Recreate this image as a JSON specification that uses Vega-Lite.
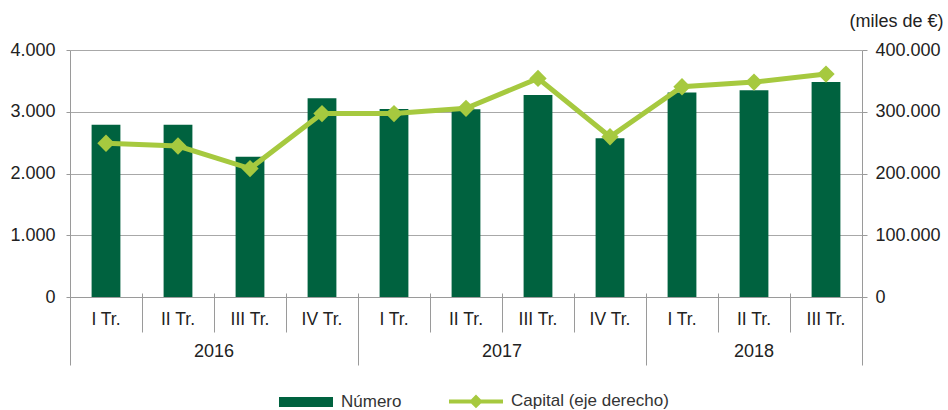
{
  "$schema": "https://vega.github.io/schema/vega-lite/v6.json",
  "width": 792,
  "height": 247,
  "autosize": {"type": "none"},
  "padding": {"left": 70, "top": 50, "right": 86, "bottom": 113},
  "config": {
    "font": "Liberation Sans",
    "view": {"stroke": null},
    "locale": {"number": {"decimal": ",", "thousands": ".", "grouping": [3], "currency": ["", " €"]}},
    "axis": {"labelFont": "Liberation Sans", "labelColor": "#222222", "labelFontSize": 18, "domainColor": "#9a9a9a", "tickColor": "#9a9a9a", "gridColor": "#a8a8a8"}
  },
  "data": {
    "values": [
      {"periodo": "2016|I Tr.", "numero": 2790, "capital": 249000},
      {"periodo": "2016|II Tr.", "numero": 2790, "capital": 244500},
      {"periodo": "2016|III Tr.", "numero": 2270, "capital": 208000},
      {"periodo": "2016|IV Tr.", "numero": 3220, "capital": 297000},
      {"periodo": "2017|I Tr.", "numero": 3045, "capital": 297000},
      {"periodo": "2017|II Tr.", "numero": 3040, "capital": 305500},
      {"periodo": "2017|III Tr.", "numero": 3270, "capital": 354000},
      {"periodo": "2017|IV Tr.", "numero": 2570, "capital": 259500},
      {"periodo": "2018|I Tr.", "numero": 3310, "capital": 340500},
      {"periodo": "2018|II Tr.", "numero": 3350, "capital": 348000},
      {"periodo": "2018|III Tr.", "numero": 3480, "capital": 361000}
    ]
  },
  "layer": [
    {
      "mark": {"type": "bar", "color": "#00623f", "width": {"band": 0.4}},
      "encoding": {
        "x": {
          "field": "periodo", "type": "nominal", "sort": null,
          "scale": {"paddingInner": 0, "paddingOuter": 0},
          "axis": {"orient": "bottom", "title": null, "ticks": false, "grid": false, "labelAngle": 0, "labelBaseline": "middle", "labelPadding": 22, "labelFontSize": 17.5, "labelExpr": "split(datum.value, '|')[1]", "domainColor": "#9a9a9a"}
        },
        "y": {
          "field": "numero", "type": "quantitative",
          "scale": {"domain": [0, 4000]},
          "axis": {"title": null, "tickCount": 5, "format": ",d", "tickSize": 4, "labelPadding": 11, "grid": true, "domain": true}
        },
        "color": {
          "datum": "Número", "type": "nominal",
          "scale": {"domain": ["Número", "Capital (eje derecho)"], "range": ["#00623f", "#a6c93f"]},
          "legend": {
            "title": null, "orient": "none", "legendX": 207, "legendY": 322, "direction": "horizontal",
            "symbolSize": 2916, "labelFontSize": 17, "labelColor": "#333333", "labelOffset": 6, "columnPadding": 39,
            "labelFont": "Liberation Sans",
            "encode": {
              "symbols": {
                "update": {
                  "size": {"value": 2916},
                  "shape": {"signal": "datum.value == 'Número' ? 'M-0.926,-0.111H0.926V0.111H-0.926Z' : 'M-1,0H1M0,-0.15L0.15,0L0,0.15L-0.15,0Z'"},
                  "fill": {"signal": "datum.value == 'Número' ? '#00623f' : '#a6c93f'"},
                  "stroke": {"signal": "datum.value == 'Número' ? '#00623f' : '#a6c93f'"},
                  "strokeWidth": {"value": 4},
                  "opacity": {"value": 1}
                }
              }
            }
          }
        }
      }
    },
    {
      "mark": {"type": "line", "strokeWidth": 5, "color": "#a6c93f"},
      "encoding": {
        "x": {
          "field": "periodo", "type": "nominal", "sort": null,
          "axis": {"orient": "bottom", "offset": -4, "title": null, "labels": false, "domain": false, "grid": false, "ticks": true, "tickBand": "extent",
            "tickSize": {"expr": "(datum.extra || indexof(['2016|IV Tr.', '2017|IV Tr.', '2018|III Tr.'], datum.value) >= 0) ? 72 : 39"}}
        },
        "y": {
          "field": "capital", "type": "quantitative",
          "scale": {"domain": [0, 400000]},
          "axis": {"orient": "right", "title": "(miles de €)", "titleAngle": 0, "titleAlign": "center", "titleBaseline": "middle", "titleX": 34, "titleY": -29, "titleFontSize": 18, "titleFontWeight": "normal", "titleColor": "#222222", "titleFont": "Liberation Sans", "tickCount": 5, "format": ",d", "tickSize": 5, "labelPadding": 8, "grid": false}
        },
        "color": {"datum": "Capital (eje derecho)", "type": "nominal"}
      }
    },
    {
      "mark": {"type": "point", "shape": "diamond", "filled": true, "size": 300, "opacity": 1, "color": "#a6c93f"},
      "encoding": {
        "x": {
          "field": "periodo", "type": "nominal", "sort": null,
          "axis": {"orient": "bottom", "title": null, "ticks": false, "domain": false, "grid": false, "labelAngle": 0, "labelBaseline": "middle", "labelPadding": 54, "labelFontSize": 18,
            "labelExpr": "split(datum.value, '|')[1] == 'II Tr.' ? split(datum.value, '|')[0] : ''",
            "labelOffset": {"expr": "split(datum.value, '|')[0] == '2018' ? 0 : 36"}}
        },
        "y": {
          "field": "capital", "type": "quantitative",
          "scale": {"domain": [0, 400000]},
          "axis": null
        },
        "color": {"datum": "Capital (eje derecho)", "type": "nominal"}
      }
    }
  ],
  "resolve": {"scale": {"y": "independent"}, "axis": {"x": "independent", "y": "independent"}}
}
